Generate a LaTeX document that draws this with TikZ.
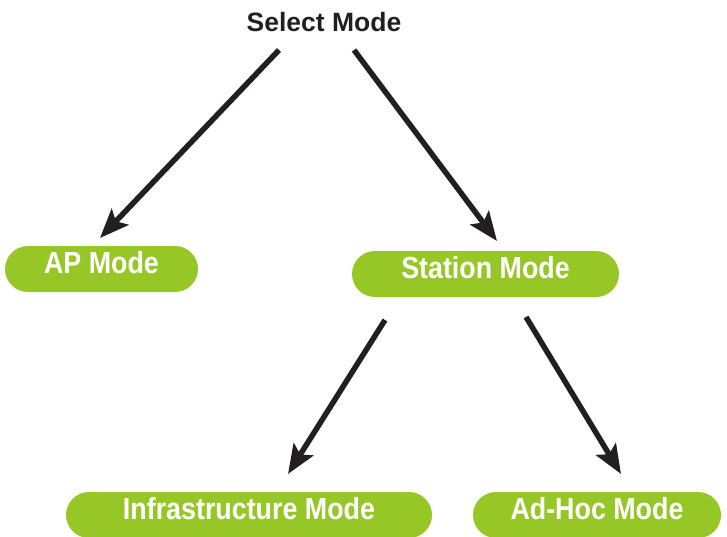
\documentclass[tikz,border=0pt]{standalone}
\usepackage{fontspec}
\setmainfont{Liberation Sans}
\newfontfamily\pillfont{Liberation Sans}[FakeStretch=0.88]
\usetikzlibrary{arrows.meta}
\definecolor{modegreen}{RGB}{150,199,38}
\definecolor{inkdark}{RGB}{35,31,32}

\begin{document}
\begin{tikzpicture}[x=1pt, y=-1pt,
	mode/.style={rectangle, rounded corners=23pt, fill=modegreen, text=white, inner xsep=0pt, inner ysep=0pt,
		text height=27pt, text depth=19pt, font=\pillfont\bfseries\fontsize{30.5}{34}\selectfont},
	arr/.style={inkdark, line width=5.5pt, -{Stealth[length=29pt, width=23pt, inset=6pt]}}]
	%\draw[help lines] (0,0) grid (727,537);
		\useasboundingbox (0,0) rectangle (727,537);
		\node[font=\bfseries\fontsize{26.5}{30}\selectfont, text=inkdark] (sel) at (324,22) {Select Mode};
		\node[mode, minimum width=193pt] (ap) at (101.5,269) {AP Mode};
		\node[mode, minimum width=267pt] (sta) at (485.5,274) {Station Mode};
		\node[mode, minimum width=366pt] (infra) at (249,515) {Infrastructure Mode};
		\node[mode, minimum width=248pt] (adhoc) at (597,515) {Ad-Hoc Mode};
		\draw[arr] ([shift={(-45,28)}]sel.center) -- ([shift={(-1.5,-31)}]ap.center);
		\draw[arr] ([shift={(30,28)}]sel.center) -- ([shift={(11.5,-33)}]sta.center);
		\draw[arr] ([shift={(-100.5,46)}]sta.center) -- ([shift={(39,-41)}]infra.center);
		\draw[arr] ([shift={(40.5,43)}]sta.center) -- ([shift={(24,-41)}]adhoc.center);
	\end{tikzpicture}
\end{document}
